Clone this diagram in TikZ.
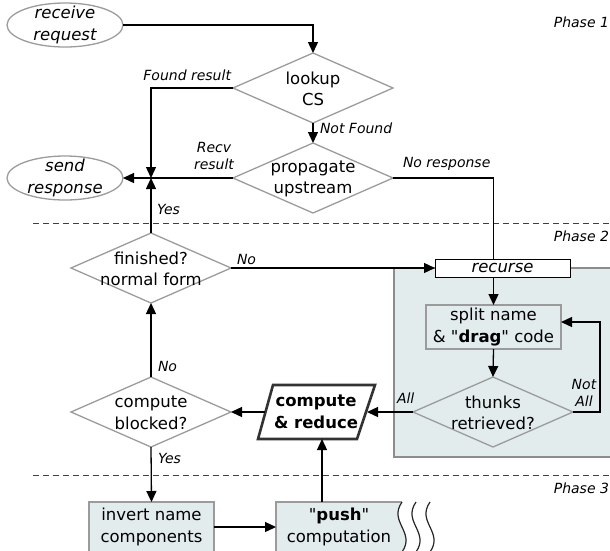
\documentclass[tikz,border=0pt]{standalone}
\usepackage{fontspec}
\setmainfont{DejaVu Sans}
\usetikzlibrary{shapes.geometric,arrows.meta}
\definecolor{boxfill}{RGB}{227,236,237}
\definecolor{edgegrey}{RGB}{155,155,155}
\definecolor{panelgrey}{RGB}{140,140,140}
\newcommand{\sq}{\textquotedbl}
\begin{document}
\begin{tikzpicture}[x=1pt,y=-1pt,
  every node/.style={inner sep=0pt, outer sep=0pt},
  main/.style={font=\fontsize{16.5}{21.5}\selectfont, align=center},
  itmain/.style={font=\fontsize{16.5}{21.5}\selectfont\itshape, align=center},
  lbl/.style={font=\fontsize{14}{17}\selectfont\itshape, align=center},
  dia/.style={diamond, draw=edgegrey, line width=1.3pt, minimum width=160pt, minimum height=70pt},
  ell/.style={ellipse, draw=edgegrey, line width=1.3pt, minimum width=116pt, minimum height=44pt},
  conn/.style={line width=1.3pt, black},
  arr/.style={conn, -{Triangle[length=11pt,width=10pt]}},
  lightbox/.style={rectangle, draw=edgegrey, line width=1.3pt, fill=boxfill, main},
  phase/.style={font=\fontsize{14}{17}\selectfont\itshape, anchor=east},
  sepline/.style={line width=0.8pt, black!75, dash pattern=on 6pt off 4pt},
  wave/.style={line width=1.2pt, black!85}
]
\clip (0,0) rectangle (610,550);
\useasboundingbox (0,0) rectangle (610,550);

% separators and phase labels
\draw[sepline] (33,223) -- (610,223);
\draw[sepline] (33,475) -- (610,475);
\node[phase] (ph1) at (609,22) {Phase 1};
\node[phase] (ph2) at (609,236) {Phase 2};
\node[phase] (ph3) at (609,488) {Phase 3};

% phase 2 panel
\draw[draw=panelgrey, line width=1.3pt, fill=boxfill] (394,268) rectangle (640,457);

% phase 1 nodes
\node[ell] (recv) at (65,25) {};
\node[itmain] (recv-t) at (recv) {receive\\request};
\node[dia] (lookup) at (313,88) {};
\node[main] (lookup-t) at (313,89) {lookup\\CS};
\node[dia] (prop) at (313,178) {};
\node[main] (prop-t) at (313,179) {propagate\\upstream};
\node[ell] (send) at (65,178) {};
\node[itmain] (send-t) at (send) {send\\response};
\coordinate (J) at (151,178);

% phase 2 nodes
\node[dia] (fin) at (151,268) {};
\node[main] (fin-t) at (151,269) {finished?\\normal form};
\node[rectangle, draw=black, line width=1pt, fill=white, minimum width=135pt, minimum height=18pt,
      font=\fontsize{16.5}{18}\selectfont\itshape] (recurse) at (502.5,268) {recurse};
\node[lightbox, minimum width=135pt, minimum height=44pt] (split) at (493.5,327) {split name\\\& \sq\textbf{drag}\sq{} code};
\node[dia] (thunks) at (493,412) {};
\node[main] (thunks-t) at (493,413) {thunks\\retrieved?};
\draw[line width=2.6pt, black!80, fill=white, line join=miter] (273,385) -- (375,385) -- (357,439) -- (258,439) -- cycle;
\node[main, font=\fontsize{16.5}{21.5}\selectfont\bfseries, minimum width=102pt, minimum height=54pt] (cr) at (316,412) {compute\\\& reduce};
\node[dia] (cb) at (151,412) {};
\node[main] (cb-t) at (151,413) {compute\\blocked?};

% phase 3 nodes
\node[lightbox, minimum width=125pt, minimum height=50pt] (invert) at (151.5,527) {invert name\\components};
\fill[boxfill] (276,560) -- (276,502) -- (402,502) .. controls (388,522) and (416,532) .. (402,552) -- (402,560) -- cycle;
\draw[edgegrey, line width=1.3pt] (276,560) -- (276,502) -- (402,502);
\draw[wave] (402,502) .. controls (388,522) and (416,532) .. (402,552);
\draw[wave] (416,502) .. controls (402,522) and (430,532) .. (416,552);
\draw[wave] (430,502) .. controls (416,522) and (444,532) .. (430,552);
\node[main, minimum width=126pt, minimum height=50pt] (push) at (339,527) {\sq\textbf{push}\sq\\computation};

% connectors
\draw[arr] (recv.east) -| (lookup.north);
\draw[arr] (lookup.south) -- (prop.north);
\draw[arr] (lookup.west) -| (J);
\draw[arr] (prop.west) -- (prop.west -| send.east);
\draw[arr] (fin.north) -- (J);
\draw[conn] (prop.east) -| (split.north |- recurse.north);
\draw[arr] (fin.east) -- (recurse.west);
\draw[arr] (split.north |- recurse.south) -- (split.north);
\draw[arr] (split.south) -- (thunks.north);
\draw[arr] (thunks.east) -- ++(27,0) |- ([yshift=5pt]split.east);
\draw[arr] (thunks.west) -- (cr.east);
\draw[arr] (cr.west) -- (cb.east);
\draw[arr] (cb.north) -- (fin.south);
\draw[arr] (cb.south) -- (invert.north);
\draw[arr] (invert.east) -- (push.west);
\draw[arr] ([xshift=6pt]cr.south |- push.north) -- ([xshift=6pt]cr.south);

% connector labels
\node[lbl, anchor=east] (l-found) at (231,75) {Found result};
\node[lbl, anchor=west] (l-notfound) at (320,128) {Not Found};
\node[lbl] (l-recv) at (214,156) {Recv\\result};
\node[lbl, anchor=west] (l-noresp) at (403,164) {No response};
\node[lbl, anchor=west] (l-yes1) at (157,209) {Yes};
\node[lbl, anchor=west] (l-no1) at (237,259) {No};
\node[lbl, anchor=west] (l-no2) at (158,366) {No};
\node[lbl, anchor=west] (l-yes2) at (158,458) {Yes};
\node[lbl, anchor=west] (l-all) at (397,398) {All};
\node[lbl] (l-notall) at (584,393) {Not\\All};
\end{tikzpicture}
\end{document}
